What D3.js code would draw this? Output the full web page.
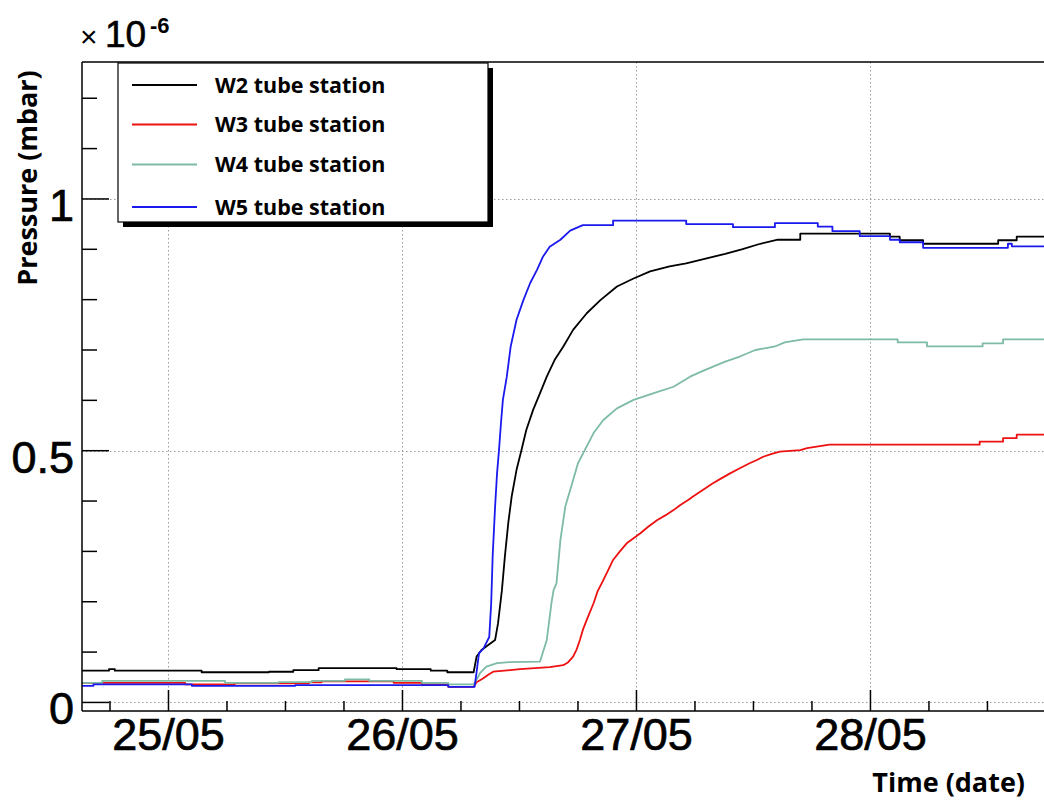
<!DOCTYPE html>
<html>
<head>
<meta charset="utf-8">
<script src="https://cdn.jsdelivr.net/npm/d3@7/dist/d3.min.js"></script>
<style>
  html, body { margin: 0; padding: 0; background: #fff; }
  svg { display: block; }
</style>
</head>
<body>
<svg id="chart" width="1044" height="800"></svg>
<script>
// ---------- data (hours since 25/05 00:00, pressure in 1e-6 mbar) ----------
// repeated hours mark the step changes of the logged readings
const seriesNames = ["W2 tube station", "W3 tube station", "W4 tube station", "W5 tube station"];
const seriesColors = ["#000000", "#ee1111", "#7dbba5", "#1a1aee"];

const w2Hours = [-8.87,-6.1,-6.1,-5.5,-5.5,3.4,3.4,10.3,10.3,12.8,12.8,15.4,15.4,23.4,23.4,26.9,26.9,28.6,28.6,31.3,
  31.6,32.1,32.8,33.5,33.8,34.2,34.5,34.85,35.2,35.7,36.2,36.7,37.4,38.1,38.8,39.6,40.5,41.5,42.9,44.3,46.0,47.7,49.4,51.4,53.1,55.2,57.1,58.8,60.7,62.5,
  64.8,64.8,74.0,74.0,75.0,75.0,77.4,77.4,85.1,85.1,87.0,87.0,89.8];
const w2Values = [0.063,0.063,0.066,0.066,0.063,0.063,0.060,0.060,0.061,0.061,0.064,0.064,0.068,0.068,0.066,0.066,0.063,0.063,0.060,0.060,
  0.091,0.104,0.114,0.124,0.157,0.223,0.289,0.356,0.409,0.462,0.501,0.541,0.581,0.614,0.647,0.680,0.707,0.740,0.773,0.799,0.826,0.842,0.856,0.866,0.872,0.882,0.891,0.900,0.911,0.919,
  0.919,0.931,0.931,0.925,0.925,0.918,0.918,0.911,0.911,0.918,0.918,0.925,0.925];

const w3Hours = [-8.87,1.7,1.7,6.8,6.8,14.4,14.4,15.7,15.7,23.1,23.1,26.0,26.0,28.7,28.7,31.3,
  31.6,32.3,32.8,33.3,36.05,39.1,40.5,41.0,41.5,41.86,42.2,42.5,42.9,43.6,44.0,44.6,45.1,45.6,46.3,47.0,48.4,49.2,50.1,51.0,51.8,52.5,53.3,53.8,54.8,55.8,56.7,57.6,58.6,59.6,60.3,61.0,61.8,62.7,64.8,65.5,67.8,
  83.2,83.2,85.6,85.6,87.0,87.0,89.8];
const w3Values = [0.039,0.039,0.036,0.036,0.038,0.038,0.040,0.040,0.042,0.042,0.039,0.039,0.036,0.036,0.031,0.031,
  0.040,0.048,0.055,0.061,0.066,0.070,0.074,0.080,0.091,0.105,0.124,0.144,0.164,0.197,0.220,0.243,0.263,0.283,0.300,0.316,0.336,0.349,0.362,0.372,0.382,0.392,0.402,0.409,0.422,0.435,0.445,0.455,0.465,0.475,0.481,0.488,0.493,0.498,0.501,0.505,0.512,
  0.512,0.518,0.518,0.525,0.525,0.532,0.532];

const w4Hours = [-8.87,-6.8,-6.8,5.8,5.8,11.3,11.3,14.7,14.7,18.1,18.1,20.6,20.6,26.0,26.0,28.7,28.7,31.3,
  31.6,31.95,32.6,33.7,35.0,38.1,38.8,39.3,39.5,39.8,40.2,40.7,41.4,42.0,42.7,43.6,44.6,46.0,47.7,49.7,51.8,53.5,55.0,57.1,58.6,60.2,62.2,63.2,65.1,
  74.8,74.8,77.8,77.8,83.5,83.5,85.6,85.6,89.8];
const w4Values = [0.039,0.039,0.043,0.043,0.039,0.039,0.0405,0.0405,0.043,0.043,0.046,0.046,0.043,0.043,0.039,0.039,0.036,0.036,
  0.045,0.058,0.071,0.078,0.080,0.081,0.124,0.200,0.223,0.237,0.323,0.389,0.435,0.475,0.501,0.535,0.561,0.584,0.601,0.614,0.627,0.647,0.660,0.677,0.687,0.700,0.707,0.715,0.721,
  0.721,0.715,0.715,0.707,0.707,0.713,0.713,0.721,0.721];

const w5Hours = [-8.87,-7.7,-7.7,2.4,2.4,13.0,13.0,28.7,28.7,31.4,
  31.6,31.85,32.3,32.9,33.1,33.25,33.5,33.7,33.9,34.1,34.3,34.7,35.1,35.7,36.4,37.1,37.8,38.4,39.1,40.2,41.2,42.5,
  45.6,45.6,53.1,53.1,57.9,57.9,62.2,62.2,66.6,66.6,68.1,68.1,70.9,70.9,74.0,74.0,75.0,75.0,77.4,77.4,86.1,86.1,86.5,86.5,89.8];
const w5Values = [0.033,0.033,0.036,0.036,0.033,0.033,0.0345,0.0345,0.031,0.031,
  0.060,0.098,0.107,0.130,0.197,0.290,0.389,0.455,0.501,0.554,0.601,0.647,0.707,0.760,0.799,0.833,0.859,0.885,0.905,0.919,0.937,0.948,
  0.948,0.957,0.957,0.950,0.950,0.944,0.944,0.952,0.952,0.945,0.945,0.936,0.936,0.926,0.926,0.919,0.919,0.914,0.914,0.903,0.903,0.911,0.911,0.906,0.906];

const xDomainHours = [-8.87, 89.8];
const yDomain = [-0.017, 1.272];
const yMajorTicks = [0, 0.5, 1];
const yMinorTicks = [0.1, 0.2, 0.3, 0.4, 0.6, 0.7, 0.8, 0.9, 1.1, 1.2];
const yTickLabels = ["0", "0.5", "1"];

// ---------- layout ----------
const svg = d3.select("#chart");
const L = 82, R = 1044, T = 62, B = 711;
const base = Date.UTC(2011, 4, 25);
const toDate = h => new Date(base + h * 3600e3);

const x = d3.scaleUtc().domain(xDomainHours.map(toDate)).range([L, R]);
const y = d3.scaleLinear().domain(yDomain).range([B, T]);

const series = [
  { name: seriesNames[0], color: seriesColors[0], hours: w2Hours, values: w2Values },
  { name: seriesNames[1], color: seriesColors[1], hours: w3Hours, values: w3Values },
  { name: seriesNames[2], color: seriesColors[2], hours: w4Hours, values: w4Values },
  { name: seriesNames[3], color: seriesColors[3], hours: w5Hours, values: w5Values }
];

// grid
const dayTicks = x.ticks(d3.utcDay.every(1));
const sixHourTicks = x.ticks(d3.utcHour.every(6));
const grid = svg.append("g").attr("stroke", "#9a9a9a").attr("stroke-width", 1).attr("stroke-dasharray", "1.5,2.5");
grid.selectAll("line.v").data(dayTicks).join("line")
  .attr("x1", d => Math.round(x(d)) + 0.5).attr("x2", d => Math.round(x(d)) + 0.5)
  .attr("y1", T).attr("y2", B);
grid.selectAll("line.h").data(yMajorTicks).join("line")
  .attr("x1", L).attr("x2", R)
  .attr("y1", d => Math.round(y(d)) + 0.5).attr("y2", d => Math.round(y(d)) + 0.5);

// clip
svg.append("clipPath").attr("id", "clip").append("rect")
  .attr("x", L).attr("y", T).attr("width", R - L).attr("height", B - T);

const line = d3.line().curve(d3.curveLinear).x(d => x(d[0])).y(d => y(d[1]));
const plot = svg.append("g").attr("clip-path", "url(#clip)");
series.forEach(s => {
  const pts = s.hours.map((h, i) => [toDate(h), s.values[i]]);
  plot.append("path").datum(pts)
    .attr("fill", "none").attr("stroke", s.color).attr("stroke-width", 1.8)
    .attr("stroke-linejoin", "round")
    .attr("d", line);
});

// frame / axes
const ax = svg.append("g").attr("stroke", "#000").attr("stroke-width", 1.5).attr("fill", "none");
ax.append("line").attr("x1", L).attr("x2", R + 2).attr("y1", T).attr("y2", T);
ax.append("line").attr("x1", L).attr("x2", L).attr("y1", T).attr("y2", B);
ax.append("line").attr("x1", L).attr("x2", R + 2).attr("y1", B).attr("y2", B);

// x ticks
const isDay = d => d.getUTCHours() === 0;
ax.selectAll("line.xt").data(sixHourTicks).join("line")
  .attr("x1", d => x(d)).attr("x2", d => x(d))
  .attr("y1", B).attr("y2", d => isDay(d) ? B - 21 : B - 10);
// y ticks
ax.selectAll("line.ymaj").data(yMajorTicks).join("line")
  .attr("x1", L).attr("x2", L + 27).attr("y1", d => y(d)).attr("y2", d => y(d));
ax.selectAll("line.ymin").data(yMinorTicks).join("line")
  .attr("x1", L).attr("x2", L + 15).attr("y1", d => y(d)).attr("y2", d => y(d));

const fmt = d3.utcFormat("%d/%m");
const numFont = "Liberation Sans, Arial, sans-serif";
svg.append("g").selectAll("text").data(dayTicks).join("text")
  .attr("x", d => x(d)).attr("y", 750)
  .attr("text-anchor", "middle")
  .attr("font-family", numFont).attr("font-size", 45)
  .attr("stroke", "#000").attr("stroke-width", 0.7)
  .text(d => fmt(d));

svg.append("g").selectAll("text").data(yMajorTicks).join("text")
  .attr("x", 74).attr("y", d => y(d) + 22)
  .attr("text-anchor", "end")
  .attr("font-family", numFont).attr("font-size", 45)
  .attr("stroke", "#000").attr("stroke-width", 0.7)
  .text((d, i) => yTickLabels[i]);

// exponent
const ex = svg.append("text").attr("font-family", numFont);
ex.append("tspan").attr("x", 80).attr("y", 47).attr("font-size", 30).text("×");
ex.append("tspan").attr("x", 105).attr("y", 47).attr("font-size", 37).attr("stroke", "#000").attr("stroke-width", 0.6).text("10");
ex.append("tspan").attr("x", 150).attr("y", 33).attr("font-size", 22).attr("font-weight", "bold").text("-6");

// axis titles
svg.append("text")
  .attr("transform", "translate(37,178) rotate(-90)")
  .attr("text-anchor", "middle")
  .attr("font-family", "Open Sans, sans-serif").attr("font-weight", 700).attr("font-size", 27)
  .text("Pressure (mbar)");
svg.append("text")
  .attr("x", 1025).attr("y", 792)
  .attr("text-anchor", "end")
  .attr("font-family", "Open Sans, sans-serif").attr("font-weight", 700).attr("font-size", 27)
  .text("Time (date)");

// legend
const lg = svg.append("g");
const lx = 118, ly = 63, lw = 370, lh = 159;
lg.append("rect").attr("x", lx + 5).attr("y", ly + 5).attr("width", lw).attr("height", lh).attr("fill", "#000");
lg.append("rect").attr("x", lx).attr("y", ly).attr("width", lw).attr("height", lh)
  .attr("fill", "#fff").attr("stroke", "#000").attr("stroke-width", 1.2);
const rowsY = [85, 124.5, 164.5, 207];
series.forEach((s, i) => {
  lg.append("line").attr("x1", 132).attr("x2", 197).attr("y1", rowsY[i]).attr("y2", rowsY[i])
    .attr("stroke", s.color).attr("stroke-width", 1.8);
  lg.append("text").attr("x", 215).attr("y", rowsY[i] + 7.5)
    .attr("font-family", "Open Sans, sans-serif").attr("font-weight", 700).attr("font-size", 21.5)
    .text(s.name);
});
</script>
</body>
</html>
